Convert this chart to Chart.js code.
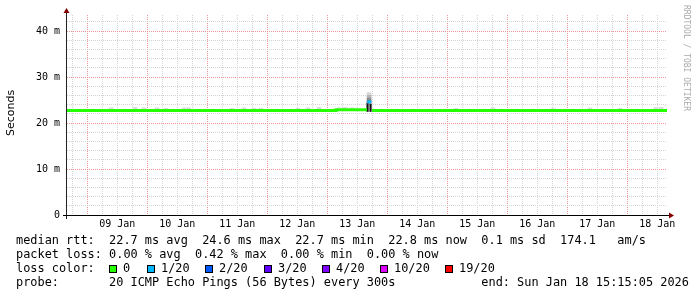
<!DOCTYPE html>
<html>
<head>
<meta charset="utf-8">
<script src="https://cdn.jsdelivr.net/npm/chart.js@4.4.1/dist/chart.umd.min.js"></script>
<style>
  html, body { margin: 0; padding: 0; background: #fff; }
  canvas { display: block; }
</style>
</head>
<body>
<canvas id="rtt" width="697" height="297"></canvas>
<script>
// x values are hours since 08 Jan 00:00, y values are rtt in ms
const T_START = 15.88;
const T_END = 255.88;

const dayLabels = ['09 Jan', '10 Jan', '11 Jan', '12 Jan', '13 Jan', '14 Jan', '15 Jan', '16 Jan', '17 Jan', '18 Jan'];

// median rtt, each value holds until the next sample (stepped)
const medianHours = [15.88, 123.5, 135.9, 136.0, 137.6, 137.9, 255.88];
const medianMs    = [22.7,  22.9,  22.9,  24.6,  24.6,  22.7,  22.7];
const medianLoss  = [0,     0,     0,     1,     1,     0,     0];   // lost pings of 20

// faint smoke above the median line
const smokeHours = [33.5, 43.1, 46.7, 51.9, 55.5, 62.7, 64.5, 81.9, 86.7, 90.7, 93.5, 108.3, 112.3, 116.7, 124.8, 127.1, 129.9, 171.5, 186.3, 210.3, 225.1, 237.1, 251.5, 253.5];
const smokeLow   = [22.7, 22.7, 22.7, 22.7, 22.7, 22.7, 22.7, 22.7, 22.7, 22.7, 22.7, 22.7, 22.7, 22.7, 22.9, 22.9, 22.9, 22.7, 22.7, 22.7, 22.7, 22.7, 22.7, 22.7];
const smokeHigh  = [23.3, 23.4, 23.3, 23.3, 23.2, 23.3, 23.3, 23.2, 23.3, 23.2, 23.2, 23.2, 23.3, 23.4, 23.3, 23.4, 23.3, 23.2, 23.3, 23.2, 23.3, 23.2, 23.4, 23.4];

// smoke of the 13 Jan spike, bands from light (outer) to dark (inner)
const spikeHours = [136.7, 136.7, 136.7, 136.7];
const spikeLow   = [26.0, 25.4, 24.8, 24.3];
const spikeHigh  = [26.6, 26.0, 25.4, 24.8];
const spikeCoreHours = [136.1, 137.3];
const spikeCoreLow   = [22.5, 22.5];
const spikeCoreHigh  = [24.3, 24.1];

const lossLevels = [0, 1, 2, 3, 4, 10, 19];
const lossLabels = ['0', '1/20', '2/20', '3/20', '4/20', '10/20', '19/20'];
const lossColors = ['#26ff00', '#00b8ff', '#0059ff', '#5e00ff', '#7e00ff', '#dd00ff', '#ff0000'];

const legendRows = [
  'median rtt:  22.7 ms avg  24.6 ms max  22.7 ms min  22.8 ms now  0.1 ms sd  174.1   am/s',
  'packet loss: 0.00 % avg  0.42 % max  0.00 % min  0.00 % now',
  'loss color:',
  'probe:       20 ICMP Echo Pings (56 Bytes) every 300s            end: Sun Jan 18 15:15:05 2026'
];

const MONO = '"DejaVu Sans Mono", "Liberation Mono", monospace';
const MAJOR = 'rgb(238,150,150)';
const MINOR = 'rgb(212,212,212)';

// one stepped line per loss colour, null where another colour takes over
const medianSets = lossLevels.map((lvl, k) => ({
  type: 'line',
  data: medianHours.map((h, i) => ({ x: h, y: medianLoss[i] === lvl ? medianMs[i] : null })),
  borderColor: lossColors[k],
  borderWidth: 3,
  pointRadius: 0,
  stepped: true,
  spanGaps: false,
  borderCapStyle: 'butt',
  order: 1,
})).filter(ds => ds.data.some(p => p.y !== null));

function bars(hours, lo, hi, color, thick) {
  return {
    type: 'bar',
    data: hours.map((h, i) => ({ x: h, y: [lo[i], hi[i]] })),
    backgroundColor: color,
    barThickness: thick,
    grouped: false,
    borderWidth: 0,
    order: 2,
  };
}

const decor = {
  id: 'decor',
  afterDraw(chart) {
    const ctx = chart.ctx, a = chart.chartArea;
    const ax = a.left - 0.5, ay = a.bottom + 0.5;
    ctx.save();

    // axes
    ctx.lineWidth = 1;
    ctx.strokeStyle = '#222';
    ctx.beginPath();
    ctx.moveTo(ax, a.bottom + 4); ctx.lineTo(ax, a.top - 3);
    ctx.stroke();
    ctx.strokeStyle = '#000';
    ctx.beginPath();
    ctx.moveTo(a.left - 4, ay); ctx.lineTo(a.right + 2, ay);
    ctx.stroke();

    // arrows
    ctx.fillStyle = '#7f0000';
    ctx.beginPath();
    ctx.moveTo(ax - 3, a.top - 2); ctx.lineTo(ax + 3, a.top - 2); ctx.lineTo(ax, a.top - 7);
    ctx.closePath(); ctx.fill();
    ctx.beginPath();
    ctx.moveTo(a.right + 2, ay - 3); ctx.lineTo(a.right + 2, ay + 3); ctx.lineTo(a.right + 7, ay);
    ctx.closePath(); ctx.fill();

    // y title
    ctx.fillStyle = '#000';
    ctx.font = '11px "DejaVu Sans", sans-serif';
    ctx.textAlign = 'center';
    ctx.textBaseline = 'middle';
    ctx.save();
    ctx.translate(11, 113);
    ctx.rotate(-Math.PI / 2);
    ctx.fillText('Seconds', 0, 0);
    ctx.restore();

    // watermark
    ctx.save();
    ctx.fillStyle = '#aaa';
    ctx.font = '8px ' + MONO;
    ctx.textAlign = 'left';
    ctx.translate(686, 5);
    ctx.rotate(Math.PI / 2);
    ctx.fillText('RRDTOOL / TOBI OETIKER', 0, 0);
    ctx.restore();

    // legend
    ctx.font = '11.9px ' + MONO;
    ctx.textAlign = 'left';
    ctx.fillStyle = '#000';
    legendRows.forEach((row, i) => ctx.fillText(row, 16, 241 + i * 14));

    const boxX = [109, 147, 205, 264, 322, 380, 445];
    lossLabels.forEach((lbl, i) => {
      ctx.fillStyle = lossColors[i];
      ctx.fillRect(boxX[i], 265, 8, 8);
      ctx.strokeStyle = '#000';
      ctx.strokeRect(boxX[i] + 0.5, 265.5, 7, 7);
      ctx.fillStyle = '#000';
      ctx.fillText(lbl, boxX[i] + 14, 269);
    });

    ctx.restore();
  }
};

new Chart(document.getElementById('rtt'), {
  type: 'line',
  data: {
    datasets: [
      ...medianSets,
      bars(smokeHours, smokeLow, smokeHigh, '#dcdcdc', 4),
      bars(spikeHours, spikeLow, spikeHigh, ['#d6d6d6', '#b4b4b4', '#8c8c8c', '#666'], 4),
      bars(spikeCoreHours, spikeCoreLow, spikeCoreHigh, '#111', 1.5),
    ]
  },
  options: {
    responsive: false,
    animation: false,
    devicePixelRatio: 1,
    layout: { padding: { top: 15, right: 30, left: 0, bottom: 0 } },
    plugins: { legend: { display: false }, tooltip: { enabled: false } },
    scales: {
      x: {
        type: 'linear',
        min: T_START,
        max: T_END,
        offset: false,
        afterBuildTicks: s => {
          const t = [];
          for (let v = 18; v < T_END; v += 6) t.push({ value: v });
          s.ticks = t;
        },
        afterFit: s => { s.height = 82; },
        ticks: {
          autoSkip: false,
          maxRotation: 0,
          padding: 3,
          color: '#000',
          font: { family: MONO, size: 10 },
          callback: v => (v % 24 === 12 ? dayLabels[(v - 36) / 24] : ''),
        },
        grid: {
          offset: false,
          drawTicks: false,
          lineWidth: 1,
          color: c => (c.tick && c.tick.value % 24 === 0 ? MAJOR : MINOR),
        },
        border: { display: false, dash: [1, 1] },
      },
      y: {
        min: 0,
        max: 43.48,
        afterBuildTicks: s => {
          const t = [];
          for (let v = 0; v <= 42; v += 2) t.push({ value: v });
          s.ticks = t;
        },
        afterFit: s => { s.width = 67; },
        ticks: {
          autoSkip: false,
          padding: 7,
          color: '#000',
          font: { family: MONO, size: 10 },
          callback: v => (v % 10 === 0 ? (v === 0 ? '0' : v + ' m') : ''),
        },
        grid: {
          drawTicks: false,
          lineWidth: 1,
          color: c => {
            const v = c.tick ? c.tick.value : 0;
            if (v === 0) return 'rgba(0,0,0,0)';
            return v % 10 === 0 ? MAJOR : MINOR;
          },
        },
        border: { display: false, dash: [1, 1] },
      }
    }
  },
  plugins: [decor]
});
</script>
</body>
</html>
